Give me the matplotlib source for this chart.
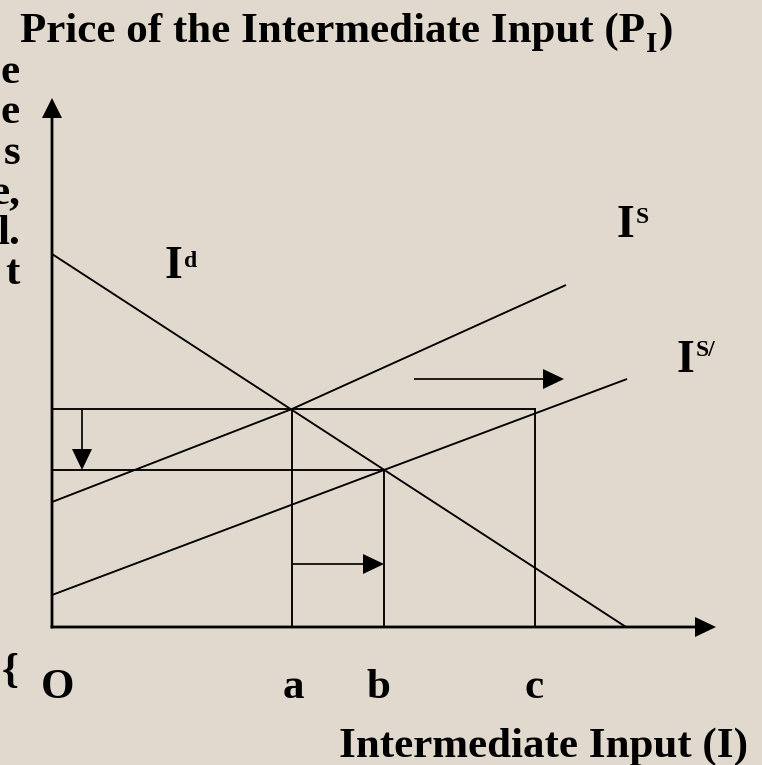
import matplotlib
matplotlib.use("Agg")
import matplotlib.pyplot as plt

# ---------------- data (chart units; origin O at (0,0)) ----------------
x_ticks = [0.0, 24.0, 33.2, 48.3]          # O, a, b, c
x_tick_labels = ["O", "a", "b", "c"]
price_high = 21.8                           # price at a (original equilibrium)
price_low = 15.7                            # price at b (new equilibrium)

demand_x = [0.0, 57.4]                      # I^d
demand_y = [37.3, 0.0]
supply_x = [0.0, 24.0, 51.4]                # I^S
supply_y = [12.5, 21.8, 34.2]
supply2_x = [0.0, 33.2, 57.5]               # I^S/
supply2_y = [3.2, 15.7, 24.8]

shift_arrow_x = [36.2, 51.2]                # supply shift arrow
shift_arrow_y = 24.8
qty_arrow_y = 6.3                           # a -> b arrow
price_arrow_x = 3.0                         # price drop arrow

x_max, y_max = 66.4, 52.9

left_fragments = ["e", "e", "s", "e,", "l.", "t"]

# ---------------- figure ----------------
W, H = 762, 765
BG = "#E1D9CD"
FONT = "Liberation Serif"
fig = plt.figure(figsize=(W / 100, H / 100), dpi=100, facecolor=BG)
ax = fig.add_axes([52 / W, (H - 627) / H, 664 / W, 529 / H])
ax.set_xlim(0, x_max)
ax.set_ylim(0, y_max)
ax.axis("off")
ax.patch.set_alpha(0)

LW = 1.35
k = "black"
# axes with arrows
ax.arrow(-0.14, 0, x_max + 0.14, 0, width=0.28, head_width=2.0, head_length=2.1,
         length_includes_head=True, color=k, lw=0, clip_on=False)
ax.arrow(0, -0.14, 0, y_max + 0.14, width=0.28, head_width=2.0, head_length=2.0,
         length_includes_head=True, color=k, lw=0, clip_on=False)

# curves
ax.plot(demand_x, demand_y, color=k, lw=LW, solid_capstyle="butt")
ax.plot(supply_x, supply_y, color=k, lw=LW, solid_capstyle="butt")
ax.plot(supply2_x, supply2_y, color=k, lw=LW, solid_capstyle="butt")

a, b, c = x_ticks[1], x_ticks[2], x_ticks[3]
# guide lines
ax.plot([0, c], [price_high, price_high], color=k, lw=LW)
ax.plot([c, c], [0, price_high], color=k, lw=LW)
ax.plot([0, b], [price_low, price_low], color=k, lw=LW)
ax.plot([a, a], [0, price_high], color=k, lw=LW)
ax.plot([b, b], [0, price_low], color=k, lw=LW)

# small arrows
def arrow(x0, y0, x1, y1):
    ax.arrow(x0, y0, x1 - x0, y1 - y0, width=0.17, head_width=2.0, head_length=2.1,
             length_includes_head=True, color=k, lw=0)

arrow(price_arrow_x, price_high, price_arrow_x, price_low)
arrow(a, qty_arrow_y, b, qty_arrow_y)
arrow(shift_arrow_x[0], shift_arrow_y, shift_arrow_x[1], shift_arrow_y)

# ---------------- text ----------------
renderer = fig.canvas.get_renderer()

def put(txt, x, y, size, ha="left", va="baseline"):
    return fig.text(x / W, 1 - y / H, txt, fontsize=size, fontweight="bold",
                    family=FONT, ha=ha, va=va, color=k)

def right_edge(t):
    return t.get_window_extent(renderer).x1

# title with subscript
t1 = put("Price of the Intermediate Input (P", 20, 42, 31)
t2 = put("I", right_edge(t1) + 1, 52, 21)
put(")", right_edge(t2) + 1, 42, 31)

# left cut-off paragraph fragments
for txt, yb in zip(left_fragments, [83, 123, 164, 204, 244, 284]):
    put(txt, 20, yb, 31, ha="right")
put("{", 2, 682, 31)

# x tick labels
label_dx = [0.6, 0.1, -0.6, -0.1]
for xv, lab, dx in zip(x_ticks, x_tick_labels, label_dx):
    px = 52 + (xv + dx) * 10
    put(lab, px, 698, 31, ha="center")

put("Intermediate Input (I)", 748, 757, 31, ha="right")

# curve labels with superscripts
def sup_label(x, yb, sup, sup_yb):
    t = put("I", x, yb, 33)
    put(sup, right_edge(t) + 1, sup_yb, 17)

sup_label(165, 278, "d", 267)
sup_label(617, 237, "S", 223)
sup_label(677, 372, "S/", 356)

fig.savefig("out.png", dpi=100, facecolor=BG)
